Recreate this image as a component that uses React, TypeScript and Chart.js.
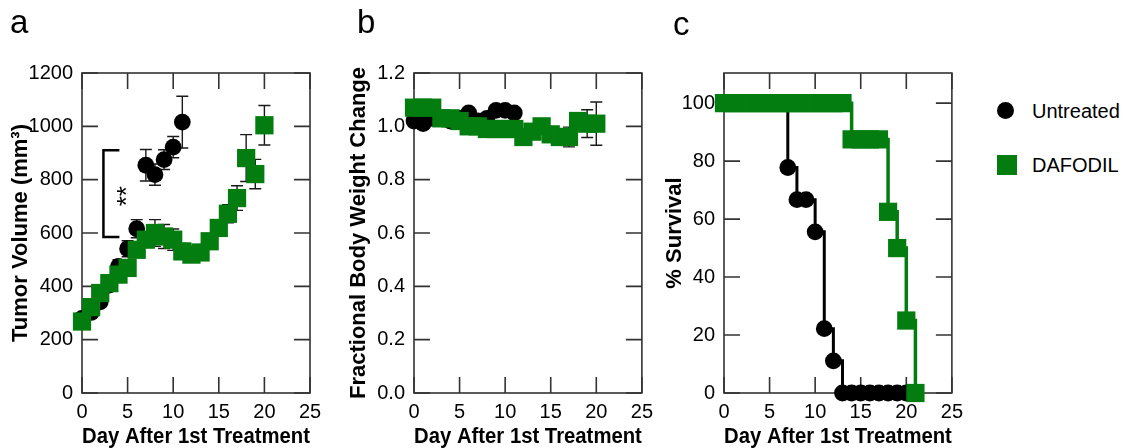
import React, { useEffect, useRef } from "react";
import { Chart, registerables } from "chart.js";
Chart.register(...registerables);

const GREEN = "#037d10";
const FONT = "'Liberation Sans', Arial, sans-serif";

// ---------- Panel a: tumor volume ----------
const tumorDaysUntreated = [0, 1, 2, 3, 4, 5, 6, 7, 8, 9, 10, 11];
const tumorUntreated = [280, 302, 342, 405, 475, 541, 616, 854, 819, 875, 922, 1016];
const tumorUntreatedErr = [15, 15, 15, 20, 25, 30, 34, 59, 40, 37, 40, 97];
const tumorDaysDafodil = [0, 1, 2, 3, 4, 5, 6, 7, 8, 9, 10, 11, 12, 13, 14, 15, 16, 17, 18, 19, 20];
const tumorDafodil = [268, 322, 375, 412, 444, 469, 537, 575, 600, 587, 575, 531, 519, 527, 569, 619, 672, 731, 881, 821, 1004];
const tumorDafodilErr = [15, 15, 15, 15, 18, 20, 22, 28, 50, 45, 40, 30, 25, 25, 25, 28, 34, 46, 88, 55, 74];
const tumorYTicks = [0, 200, 400, 600, 800, 1000, 1200];

// ---------- Panel b: body weight ----------
const weightDaysUntreated = [0, 1, 2, 3, 4, 5, 6, 7, 8, 9, 10, 11];
const weightUntreated = [1.02, 1.01, 1.03, 1.03, 1.02, 1.03, 1.05, 1.02, 1.03, 1.06, 1.06, 1.05];
const weightUntreatedErr = [0.01, 0.01, 0.01, 0.01, 0.01, 0.01, 0.01, 0.01, 0.01, 0.01, 0.01, 0.01];
const weightDaysDafodil = [0, 1, 2, 3, 4, 5, 6, 7, 8, 9, 10, 11, 12, 13, 14, 15, 16, 17, 18, 19, 20];
const weightDafodil = [1.07, 1.07, 1.07, 1.03, 1.03, 1.02, 1.0, 1.0, 0.99, 0.99, 0.99, 0.99, 0.96, 0.98, 1.0, 0.97, 0.96, 0.96, 1.02, 1.01, 1.01];
const weightDafodilErr = [0.01, 0.01, 0.01, 0.01, 0.01, 0.01, 0.01, 0.01, 0.01, 0.01, 0.01, 0.01, 0.01, 0.01, 0.01, 0.02, 0.03, 0.037, 0.03, 0.052, 0.081];
const weightYTicks = [0, 0.2, 0.4, 0.6, 0.8, 1.0, 1.2];

// ---------- Panel c: survival ----------
const survDaysUntreated = [0, 1, 2, 3, 4, 5, 6, 7, 8, 9, 10, 11, 12, 13, 14, 15, 16, 17, 18, 19, 20];
const survUntreated = [100, 100, 100, 100, 100, 100, 100, 77.8, 66.7, 66.7, 55.6, 22.2, 11.1, 0, 0, 0, 0, 0, 0, 0, 0];
const survDaysDafodil = [0, 1, 2, 3, 4, 5, 6, 7, 8, 9, 10, 11, 12, 13, 14, 15, 16, 17, 18, 19, 20, 21];
const survDafodil = [100, 100, 100, 100, 100, 100, 100, 100, 100, 100, 100, 100, 100, 100, 87.5, 87.5, 87.5, 87.5, 62.5, 50, 25, 0];
const survYTicks = [0, 20, 40, 60, 80, 100];

const xTicks = [0, 5, 10, 15, 20, 25];
const seriesNames = ["Untreated", "DAFODIL"];
const xTitle = "Day After 1st Treatment";

const zip = (xs: number[], ys: number[]) => xs.map((x, i) => ({ x, y: ys[i] }));

const framePlugin = {
  id: "frame",
  beforeDatasetsDraw(chart: any) {
    const { ctx, chartArea: a, scales } = chart;
    const TL = 16;
    ctx.save();
    ctx.strokeStyle = "#333";
    ctx.lineWidth = 1.6;
    ctx.strokeRect(a.left, a.top, a.right - a.left, a.bottom - a.top);
    ctx.beginPath();
    for (const t of scales.x.ticks) {
      const px = scales.x.getPixelForValue(t.value);
      ctx.moveTo(px, a.bottom);
      ctx.lineTo(px, a.bottom - TL);
      ctx.moveTo(px, a.top);
      ctx.lineTo(px, a.top + TL);
    }
    for (const t of scales.y.ticks) {
      const py = scales.y.getPixelForValue(t.value);
      ctx.moveTo(a.left, py);
      ctx.lineTo(a.left + TL, py);
      ctx.moveTo(a.right, py);
      ctx.lineTo(a.right - TL, py);
    }
    ctx.stroke();
    ctx.restore();
  },
};

const errorBarPlugin = {
  id: "errorBars",
  beforeDatasetsDraw(chart: any) {
    const { ctx, scales } = chart;
    ctx.save();
    ctx.strokeStyle = "#1a1a1a";
    ctx.lineWidth = 1.4;
    chart.data.datasets.forEach((ds: any, i: number) => {
      const errs: number[] | undefined = ds.errors;
      if (!errs) return;
      const meta = chart.getDatasetMeta(i);
      ds.data.forEach((p: any, j: number) => {
        const e = errs[j];
        if (!e) return;
        const x = meta.data[j].x;
        const y1 = scales.y.getPixelForValue(p.y + e);
        const y2 = scales.y.getPixelForValue(p.y - e);
        ctx.beginPath();
        ctx.moveTo(x, y1);
        ctx.lineTo(x, y2);
        ctx.moveTo(x - 6, y1);
        ctx.lineTo(x + 6, y1);
        ctx.moveTo(x - 6, y2);
        ctx.lineTo(x + 6, y2);
        ctx.stroke();
      });
    });
    ctx.restore();
  },
};

const bracketPlugin = {
  id: "bracket",
  afterDatasetsDraw(chart: any) {
    const { ctx, scales } = chart;
    const xv = scales.x.getPixelForValue(2.35);
    const xa = scales.x.getPixelForValue(4.1);
    const yt = scales.y.getPixelForValue(910);
    const yb = scales.y.getPixelForValue(585);
    ctx.save();
    ctx.strokeStyle = "#000";
    ctx.lineWidth = 2.5;
    ctx.beginPath();
    ctx.moveTo(xa, yt);
    ctx.lineTo(xv, yt);
    ctx.lineTo(xv, yb);
    ctx.lineTo(xa, yb);
    ctx.stroke();
    const sx = scales.x.getPixelForValue(4.45);
    const sy = scales.y.getPixelForValue(738);
    ctx.translate(sx, sy);
    ctx.rotate(-Math.PI / 2);
    ctx.fillStyle = "#000";
    ctx.font = `26px ${FONT}`;
    ctx.textAlign = "center";
    ctx.textBaseline = "middle";
    ctx.fillText("**", 0, 5);
    ctx.restore();
  },
};

type PanelSpec = {
  left: number;
  width: number;
  yWidth: number;
  padRight: number;
  yMin: number;
  yMax: number;
  yTicks: number[];
  yTitle: string;
  yTitlePad: number;
  decimals: number;
  datasets: any[];
  plugins: any[];
};

function makeConfig(p: PanelSpec) {
  return {
    type: "scatter",
    data: { datasets: p.datasets },
    options: {
      responsive: false,
      animation: false,
      devicePixelRatio: 1,
      layout: { padding: { left: 0, top: 73, right: p.padRight, bottom: 0 } },
      plugins: { legend: { display: false }, tooltip: { enabled: false } },
      scales: {
        x: {
          type: "linear",
          min: 0,
          max: 25,
          afterBuildTicks: (s: any) => {
            s.ticks = xTicks.map((v) => ({ value: v }));
          },
          afterFit: (s: any) => {
            s.height = 55;
          },
          grid: { display: false, drawTicks: false },
          border: { display: false },
          ticks: {
            color: "#000",
            font: { family: FONT, size: 20 },
            padding: 7,
            maxRotation: 0,
            callback: (v: any) => String(v),
          },
          title: {
            display: true,
            text: xTitle,
            color: "#000",
            font: { family: FONT, size: 22, weight: "bold", lineHeight: 1 },
            padding: { top: 0, bottom: 0 },
          },
        },
        y: {
          type: "linear",
          min: p.yMin,
          max: p.yMax,
          afterBuildTicks: (s: any) => {
            s.ticks = p.yTicks.map((v) => ({ value: v }));
          },
          afterFit: (s: any) => {
            s.width = p.yWidth;
          },
          grid: { display: false, drawTicks: false },
          border: { display: false },
          ticks: {
            color: "#000",
            font: { family: FONT, size: 20 },
            padding: 9,
            callback: (v: any) => Number(v).toFixed(p.decimals),
          },
          title: {
            display: true,
            text: p.yTitle,
            color: "#000",
            font: { family: FONT, size: 22, weight: "bold", lineHeight: 1 },
            padding: { top: p.yTitlePad, bottom: 0 },
          },
        },
      },
    },
    plugins: p.plugins,
  };
}

const untreatedStyle = {
  pointStyle: "circle",
  pointRadius: 8.4,
  pointHoverRadius: 8.4,
  pointBackgroundColor: "#000",
  pointBorderWidth: 0,
  borderColor: "#000",
  backgroundColor: "#000",
  clip: false,
};
const dafodilStyle = {
  pointStyle: "rect",
  pointRadius: 12.9,
  pointHoverRadius: 12.9,
  pointBackgroundColor: GREEN,
  pointBorderWidth: 0,
  borderColor: GREEN,
  backgroundColor: GREEN,
  clip: false,
};

const panels: PanelSpec[] = [
  {
    left: 0,
    width: 340,
    yWidth: 82,
    padRight: 30,
    yMin: 0,
    yMax: 1200,
    yTicks: tumorYTicks,
    yTitle: "Tumor Volume (mm³)",
    yTitlePad: 10,
    decimals: 0,
    datasets: [
      { label: seriesNames[1], data: zip(tumorDaysDafodil, tumorDafodil), errors: tumorDafodilErr, showLine: false, ...dafodilStyle },
      { label: seriesNames[0], data: zip(tumorDaysUntreated, tumorUntreated), errors: tumorUntreatedErr, showLine: false, ...untreatedStyle },
    ],
    plugins: [framePlugin, errorBarPlugin, bracketPlugin],
  },
  {
    left: 340,
    width: 320,
    yWidth: 74,
    padRight: 16,
    yMin: 0,
    yMax: 1.2,
    yTicks: weightYTicks,
    yTitle: "Fractional Body Weight Change",
    yTitlePad: 8,
    decimals: 1,
    datasets: [
      { label: seriesNames[1], data: zip(weightDaysDafodil, weightDafodil), errors: weightDafodilErr, showLine: false, ...dafodilStyle },
      { label: seriesNames[0], data: zip(weightDaysUntreated, weightUntreated), errors: weightUntreatedErr, showLine: false, ...untreatedStyle },
    ],
    plugins: [framePlugin, errorBarPlugin],
  },
  {
    left: 660,
    width: 310,
    yWidth: 64,
    padRight: 18,
    yMin: 0,
    yMax: 110.4,
    yTicks: survYTicks,
    yTitle: "% Survival",
    yTitlePad: 4,
    decimals: 0,
    datasets: [
      { label: seriesNames[1], data: zip(survDaysDafodil, survDafodil), showLine: true, stepped: true, borderWidth: 3.5, ...dafodilStyle },
      { label: seriesNames[0], data: zip(survDaysUntreated, survUntreated), showLine: true, stepped: true, borderWidth: 3, ...untreatedStyle },
    ],
    plugins: [framePlugin],
  },
];

const panelLetters = [
  { text: "a", left: 10, top: 5 },
  { text: "b", left: 357, top: 5 },
  { text: "c", left: 673, top: 7 },
];

function Panel({ spec }: { spec: PanelSpec }) {
  const ref = useRef<HTMLCanvasElement | null>(null);
  useEffect(() => {
    if (!ref.current) return;
    const chart = new Chart(ref.current, makeConfig(spec) as any);
    return () => chart.destroy();
  }, [spec]);
  return (
    <canvas
      ref={ref}
      width={spec.width}
      height={448}
      style={{ position: "absolute", left: spec.left, top: 0, width: spec.width, height: 448 }}
    />
  );
}

export default function App() {
  return (
    <div style={{ position: "absolute", left: 0, top: 0, width: 1128, height: 448, background: "#fff", overflow: "hidden" }}>
      {panels.map((p, i) => (
        <Panel key={i} spec={p} />
      ))}
      {panelLetters.map((l) => (
        <div
          key={l.text}
          style={{ position: "absolute", left: l.left, top: l.top, fontFamily: FONT, fontSize: 33, lineHeight: "34px", color: "#000" }}
        >
          {l.text}
        </div>
      ))}
      <div style={{ position: "absolute", left: 997, top: 102, width: 17, height: 17, borderRadius: "50%", background: "#000" }} />
      <div style={{ position: "absolute", left: 1032, top: 99, fontFamily: FONT, fontSize: 20, lineHeight: "24px", color: "#000" }}>
        {seriesNames[0]}
      </div>
      <div style={{ position: "absolute", left: 997, top: 155, width: 20, height: 20, background: GREEN }} />
      <div style={{ position: "absolute", left: 1032, top: 153, fontFamily: FONT, fontSize: 20, lineHeight: "24px", color: "#000" }}>
        {seriesNames[1]}
      </div>
    </div>
  );
}
